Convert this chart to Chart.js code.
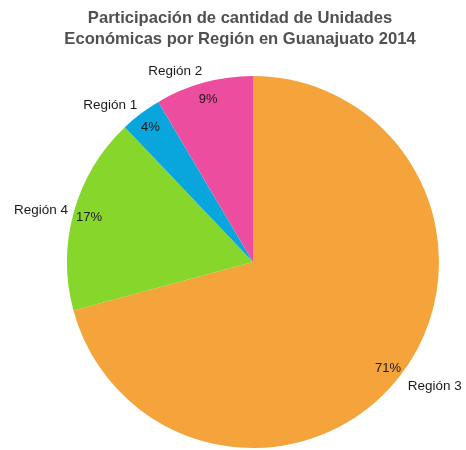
<!DOCTYPE html>
<html>
<head>
<meta charset="utf-8">
<script src="https://cdn.jsdelivr.net/npm/chart.js@4/dist/chart.umd.min.js"></script>
<style>
  html, body { margin: 0; padding: 0; background: #fff; }
  #wrap { width: 466px; height: 450px; }
</style>
</head>
<body>
<div id="wrap"><canvas id="pie"></canvas></div>
<script>
// ─── Data ─────────────────────────────────────────────────────────────────────
const titleLines = ['Participación de cantidad de Unidades', 'Económicas por Región en Guanajuato 2014'];
const regions = ['Región 3', 'Región 4', 'Región 1', 'Región 2'];
const shares = [70.8, 17.1, 3.6, 8.5];
const colors = ['#F5A33B', '#86D62B', '#08A6DC', '#EC4D9E'];

const FONT = '"Liberation Sans", Arial, sans-serif';

// Title drawn by hand so it can sit a little left of the pie centre
const titlePlugin = {
  id: 'titleText',
  afterDraw(chart) {
    const ctx = chart.ctx;
    ctx.save();
    ctx.font = 'bold 16.6px ' + FONT;
    ctx.fillStyle = '#505050';
    ctx.textAlign = 'center';
    ctx.textBaseline = 'middle';
    titleLines.forEach((t, i) => ctx.fillText(t, 240, 18 + i * 21));
    ctx.restore();
  }
};

// Percent inside the rim, region name just outside it
const sliceLabels = {
  id: 'sliceLabels',
  afterDatasetsDraw(chart) {
    const ctx = chart.ctx;
    const meta = chart.getDatasetMeta(0);
    const total = shares.reduce((a, b) => a + b, 0);
    ctx.save();
    ctx.fillStyle = '#1a1a1a';
    ctx.textBaseline = 'middle';
    meta.data.forEach((arc, i) => {
      const mid = (arc.startAngle + arc.endAngle) / 2;
      const r = arc.outerRadius;
      const cos = Math.cos(mid), sin = Math.sin(mid);
      // percentage
      ctx.font = '13px ' + FONT;
      ctx.textAlign = 'center';
      ctx.fillText(Math.round(shares[i] / total * 100) + '%', arc.x + cos * r * 0.915, arc.y + sin * r * 0.92 + 2);
      // name
      ctx.font = '13.5px ' + FONT;
      ctx.textAlign = cos >= 0 ? 'left' : 'right';
      const gap = cos >= 0 ? 9 : 6;
      ctx.fillText(regions[i], arc.x + cos * (r + gap), arc.y + sin * (r + 14) + 2.5);
    });
    ctx.restore();
  }
};

new Chart(document.getElementById('pie'), {
  type: 'pie',
  data: {
    labels: regions,
    datasets: [{
      data: shares,
      backgroundColor: colors,
      borderWidth: 0
    }]
  },
  options: {
    responsive: true,
    maintainAspectRatio: false,
    animation: false,
    layout: { padding: { top: 76, bottom: 2, left: 67, right: 27 } },
    plugins: {
      legend: { display: false },
      title: { display: false },
      tooltip: { enabled: false }
    }
  },
  plugins: [titlePlugin, sliceLabels]
});
</script>
</body>
</html>
